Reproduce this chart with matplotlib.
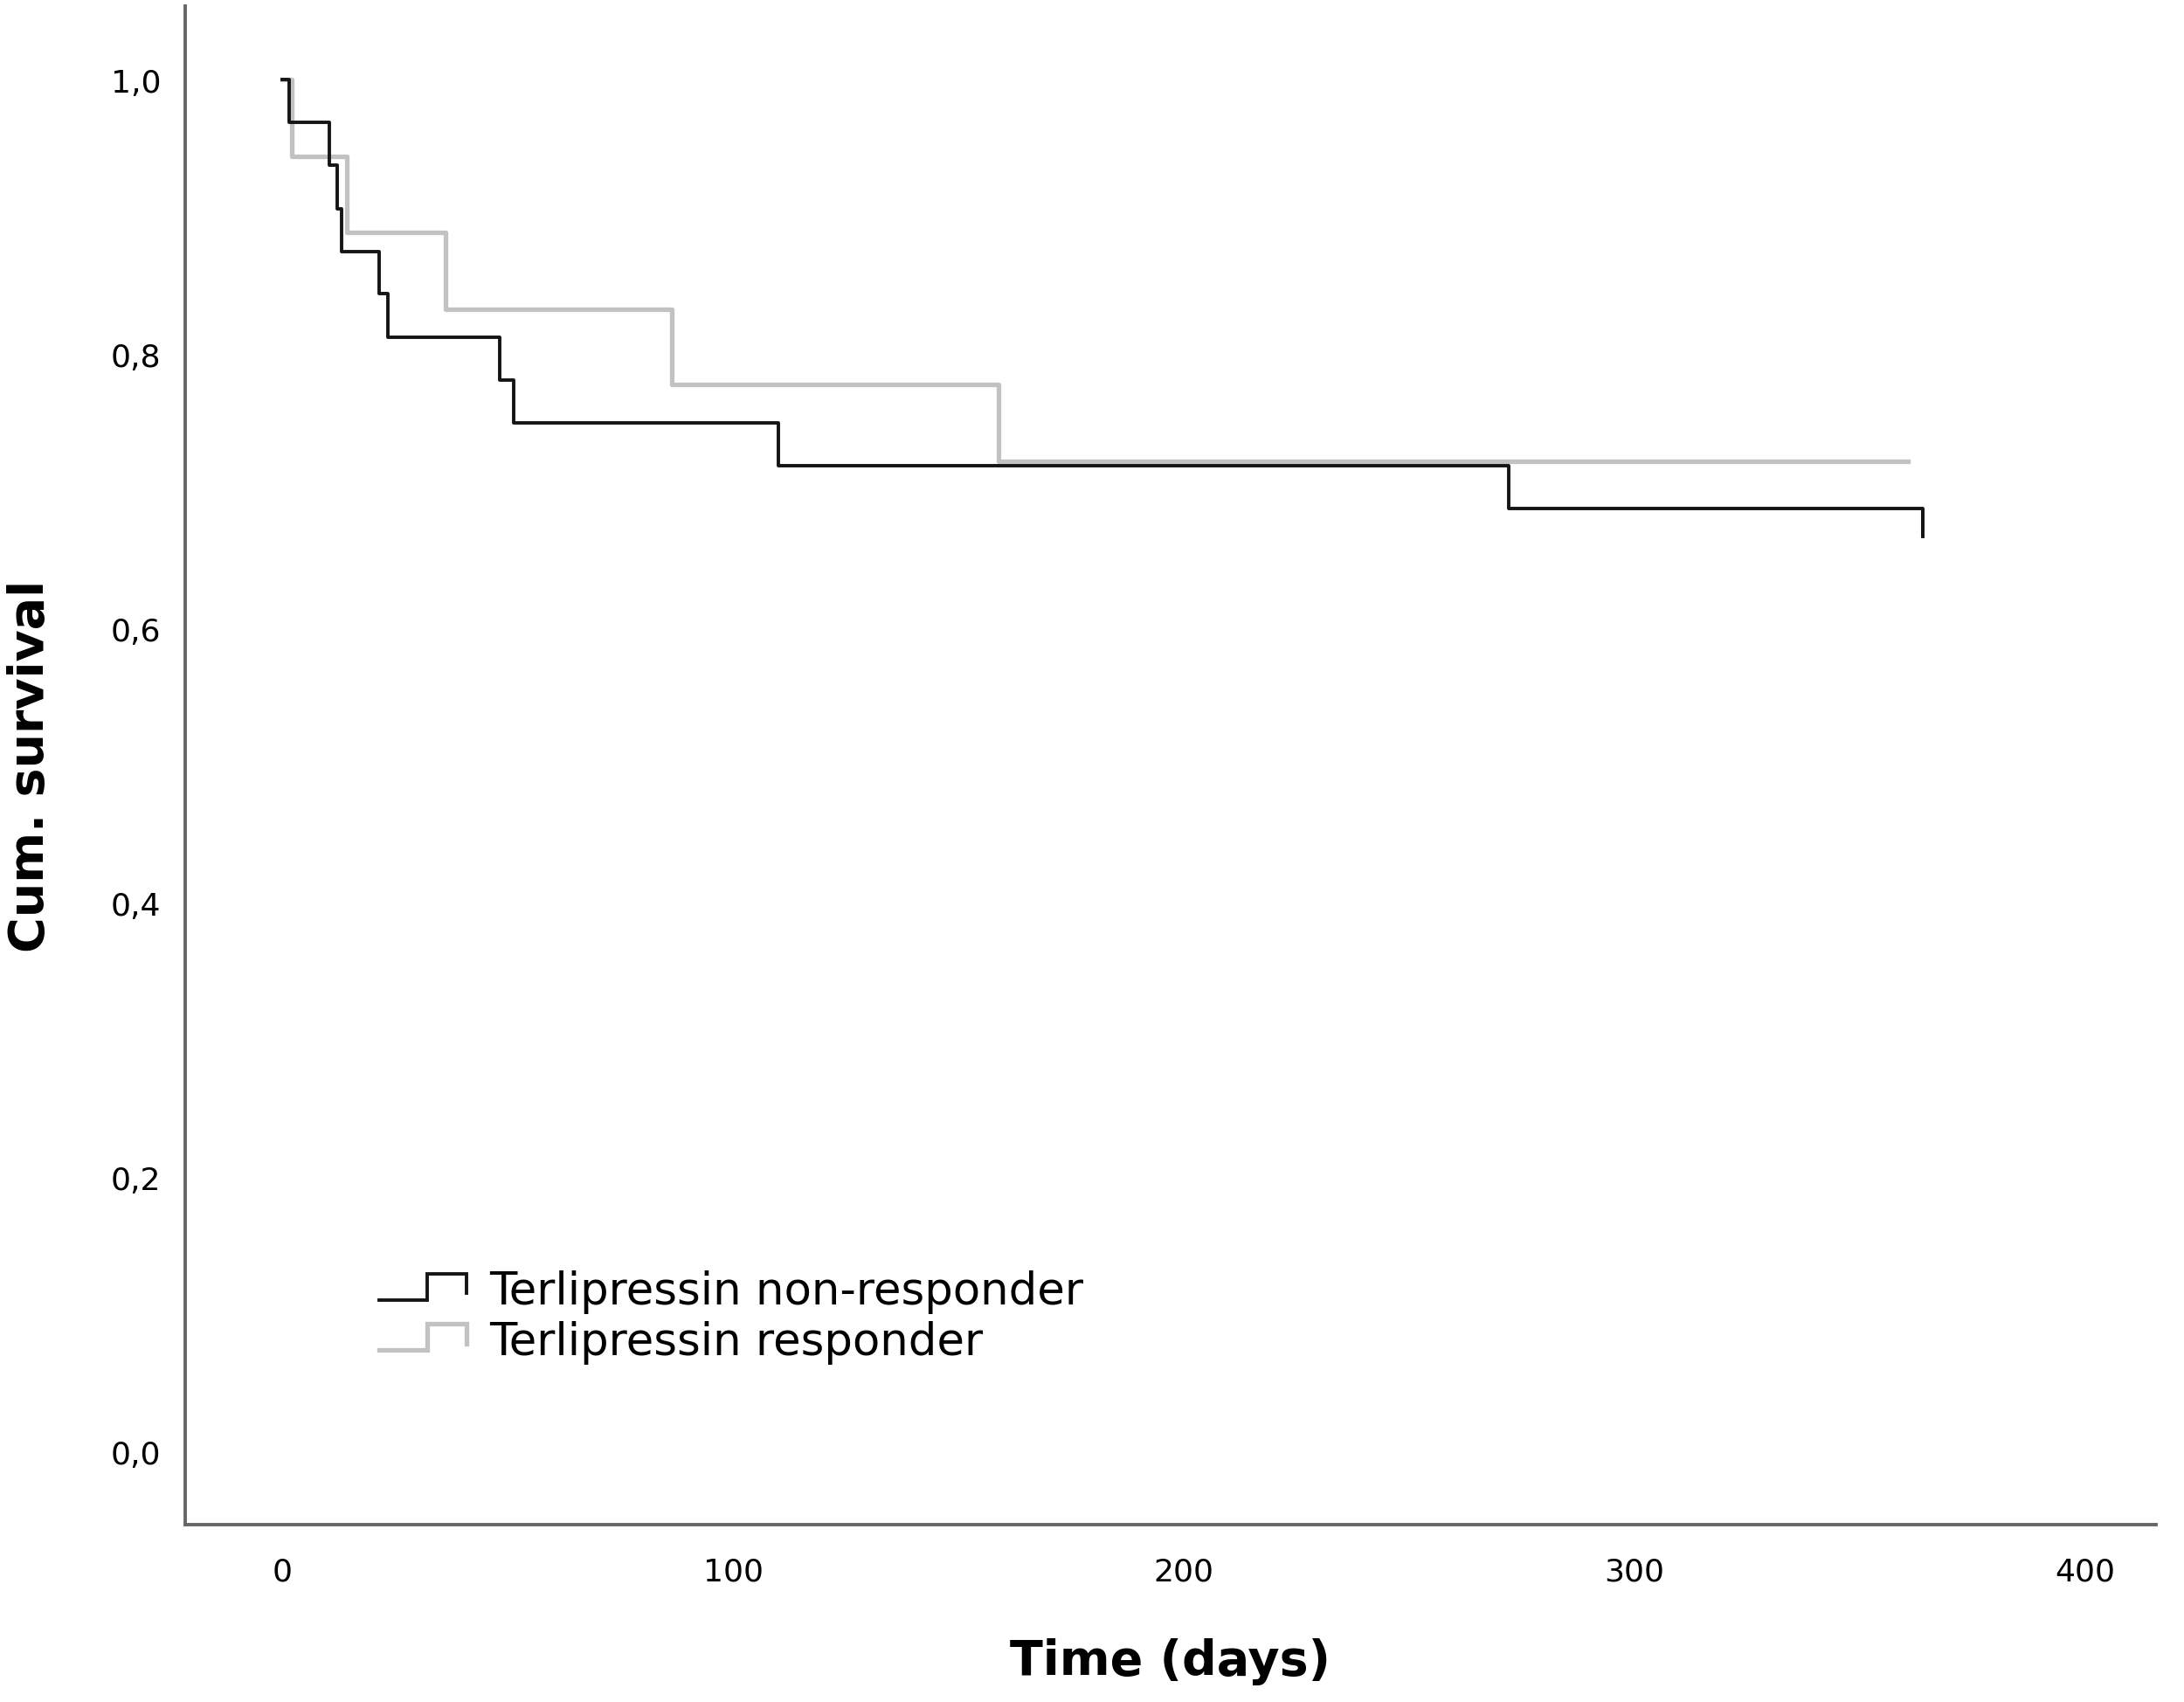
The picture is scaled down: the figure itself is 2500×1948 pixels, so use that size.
import numpy as np
import matplotlib.pyplot as plt
from matplotlib.legend_handler import HandlerBase
from matplotlib.lines import Line2D


# Kaplan-Meier steps (time in days, survival after the step)
nonresp_time = [0, 1.5, 10.3, 12.2, 13.1, 21.4, 23.3, 48.2, 51.2, 110.0, 272.0, 364.0]
nonresp_surv = [1.0, 0.969, 0.9375, 0.906, 0.875, 0.844, 0.8125, 0.781, 0.75, 0.719, 0.6875, 0.667]

resp_time = [0, 2.0, 14.2, 36.1, 86.3, 158.8, 360.6]
resp_surv = [1.0, 0.944, 0.889, 0.833, 0.778, 0.722, 0.722]

labels = ['Terlipressin non-responder', 'Terlipressin responder']
colors = ['#151515', '#c2c2c2']

y_ticks = [0.0, 0.2, 0.4, 0.6, 0.8, 1.0]
x_ticks = [0, 100, 200, 300, 400]


class StepHandler(HandlerBase):
    # little step icon like the SPSS legend
    def create_artists(self, legend, orig_handle, xdescent, ydescent,
                       width, height, fontsize, trans):
        x0 = -xdescent
        lo = -ydescent + 0.12 * height
        hi = -ydescent + 0.95 * height
        xs = [x0, x0 + 0.55 * width, x0 + 0.55 * width, x0 + width, x0 + width]
        ys = [lo, lo, hi, hi, lo + 0.2 * height]
        ln = Line2D(xs, ys, color=orig_handle.get_color(),
                    linewidth=orig_handle.get_linewidth(), solid_joinstyle='miter')
        ln.set_transform(trans)
        return [ln]


fig = plt.figure(figsize=(25, 19.49), dpi=100)
ax = fig.add_axes([0.0848, 0.1042, 0.9024, 0.8918])

l2, = ax.step(resp_time, resp_surv, where='post', color=colors[1], linewidth=3.8)
l1, = ax.step(nonresp_time, nonresp_surv, where='post', color=colors[0], linewidth=2.8)
# censored end of the non-responder curve
ax.vlines(nonresp_time[-1], nonresp_surv[-1], nonresp_surv[-2], color=colors[0], linewidth=2.8)

ax.set_xlim(-21.6, 415.7)
ax.set_ylim(-0.0528, 1.0538)

ax.set_xticks(x_ticks)
ax.set_yticks(y_ticks)
ax.set_yticklabels([('%.1f' % v).replace('.', ',') for v in y_ticks])
ax.tick_params(axis='both', length=0, labelsize=26)
ax.tick_params(axis='x', pad=26)
ax.tick_params(axis='y', pad=20)

for s in ['top', 'right']:
    ax.spines[s].set_visible(False)
for s in ['left', 'bottom']:
    ax.spines[s].set_color('#666666')
    ax.spines[s].set_linewidth(2.8)

ax.set_xlabel('Time (days)', fontsize=40, fontweight='bold')
ax.set_ylabel('Cum. survival', fontsize=40, fontweight='bold')
ax.xaxis.label.set_va('center')
ax.yaxis.label.set_va('center')
ax.xaxis.set_label_coords(0.5, -0.0898)
ax.yaxis.set_label_coords(-0.0785, 0.5)

ax.legend([l1, l2], labels, handler_map={Line2D: StepHandler()},
          loc='upper left', bbox_to_anchor=(0.0984, 0.168), frameon=False,
          fontsize=37, borderpad=0, borderaxespad=0, handlelength=1.95,
          handletextpad=0.5, labelspacing=0.15)

plt.savefig('out.png', dpi=100)
